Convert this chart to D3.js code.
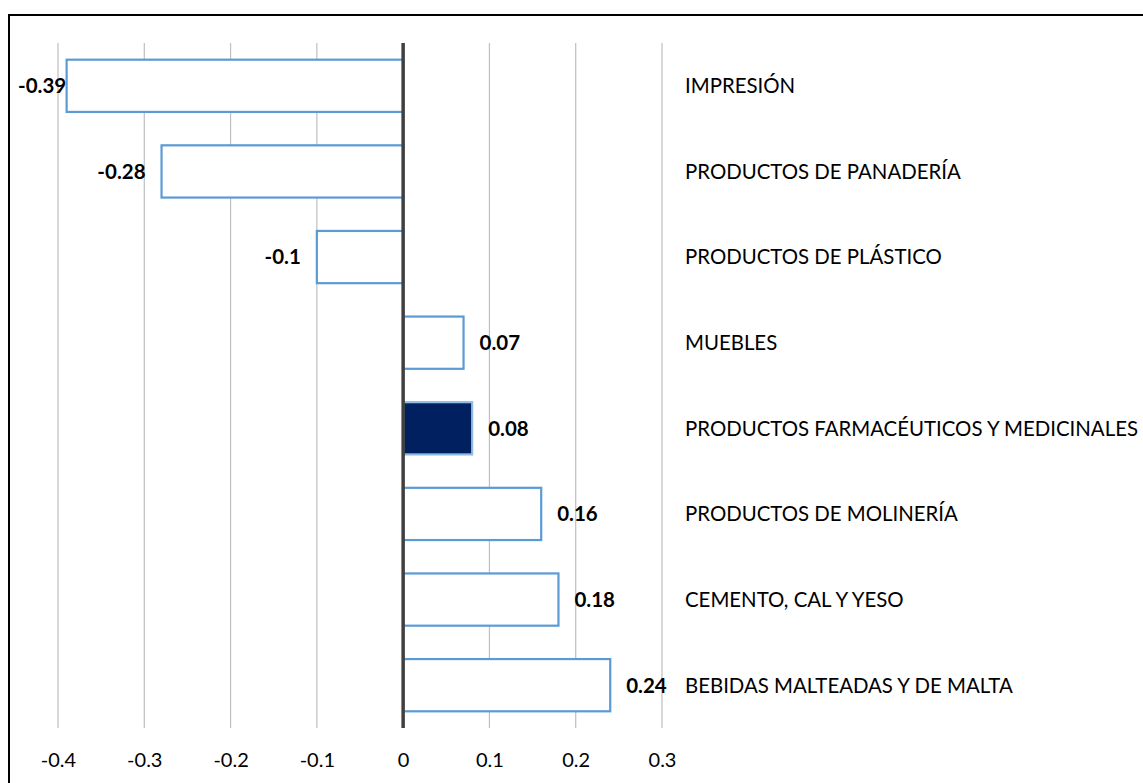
<!DOCTYPE html>
<html>
<head>
<meta charset="utf-8">
<script src="https://cdn.jsdelivr.net/npm/d3@7"></script>
<style>
  html, body { margin: 0; padding: 0; background: #fff; }
  svg { display: block; font-family: Lato, "Open Sans", sans-serif; }
</style>
</head>
<body>
<svg id="chart" width="1143" height="783"></svg>
<script>
// Sector names, top to bottom
const categories = [
  "IMPRESIÓN",
  "PRODUCTOS DE PANADERÍA",
  "PRODUCTOS DE PLÁSTICO",
  "MUEBLES",
  "PRODUCTOS FARMACÉUTICOS Y MEDICINALES",
  "PRODUCTOS DE MOLINERÍA",
  "CEMENTO, CAL Y YESO",
  "BEBIDAS MALTEADAS Y DE MALTA"
];
const values = [-0.39, -0.28, -0.1, 0.07, 0.08, 0.16, 0.18, 0.24];
const highlighted = ["PRODUCTOS FARMACÉUTICOS Y MEDICINALES"];
const tickValues = [-0.4, -0.3, -0.2, -0.1, 0, 0.1, 0.2, 0.3];

const data = categories.map((c, i) => ({ name: c, value: values[i] }));

const svg = d3.select("#chart");

// outer frame
svg.append("rect")
  .attr("x", 9).attr("y", 15)
  .attr("width", 1200).attr("height", 800)
  .attr("fill", "none").attr("stroke", "#000").attr("stroke-width", 2);

const x = d3.scaleLinear().domain([-0.4, 0.3]).range([58, 662]);
const y = d3.scaleBand().domain(categories).range([43, 728]).paddingInner(0.39).paddingOuter(0.195);

// plain hyphen-minus numbers, as typed
const fmt = d => String(+d.toFixed(2));

// vertical gridlines
svg.append("g").selectAll("line")
  .data(tickValues.filter(t => t !== 0))
  .join("line")
  .attr("x1", d => x(d)).attr("x2", d => x(d))
  .attr("y1", 43).attr("y2", 728)
  .attr("stroke", "#bfbfbf").attr("stroke-width", 1.2);

// tick labels
const axis = d3.axisBottom(x).tickValues(tickValues).tickSize(0).tickPadding(0).tickFormat(fmt);
const ax = svg.append("g").attr("transform", "translate(0,754)").call(axis);
ax.select(".domain").remove();
ax.selectAll("text")
  .attr("font-family", "Lato, 'Open Sans', sans-serif")
  .attr("font-size", 20).attr("fill", "#000").attr("dy", "0.35em").attr("y", 6);

// bars
svg.append("g").selectAll("rect")
  .data(data)
  .join("rect")
  .attr("x", d => x(Math.min(0, d.value)))
  .attr("y", d => y(d.name))
  .attr("width", d => Math.abs(x(d.value) - x(0)))
  .attr("height", y.bandwidth())
  .attr("fill", d => highlighted.includes(d.name) ? "#002060" : "#ffffff")
  .attr("stroke", d => highlighted.includes(d.name) ? "#8fbbe6" : "#5b9bd5")
  .attr("stroke-width", 2.2);

// zero axis line
svg.append("line")
  .attr("x1", x(0)).attr("x2", x(0))
  .attr("y1", 43).attr("y2", 728)
  .attr("stroke", "#404040").attr("stroke-width", 3.5);

// value labels
const labels = svg.append("g").selectAll("text")
  .data(data)
  .join("text")
  .attr("y", d => y(d.name) + y.bandwidth() / 2)
  .attr("dy", "0.36em")
  .attr("font-size", 20.5).attr("font-weight", "bold").attr("fill", "#000")
  .text(d => fmt(d.value));
labels.each(function(d) {
  const t = d3.select(this);
  const w = this.getComputedTextLength();
  if (d.value >= 0) {
    t.attr("x", x(d.value) + 16).attr("text-anchor", "start");
  } else {
    const start = Math.max(18, x(d.value) - 16 - w);
    t.attr("x", start).attr("text-anchor", "start");
  }
});

// category labels
svg.append("g").selectAll("text")
  .data(data)
  .join("text")
  .attr("x", 685)
  .attr("y", d => y(d.name) + y.bandwidth() / 2)
  .attr("dy", "0.36em")
  .attr("font-size", 20.4).attr("fill", "#000")
  .text(d => d.name);
</script>
</body>
</html>
